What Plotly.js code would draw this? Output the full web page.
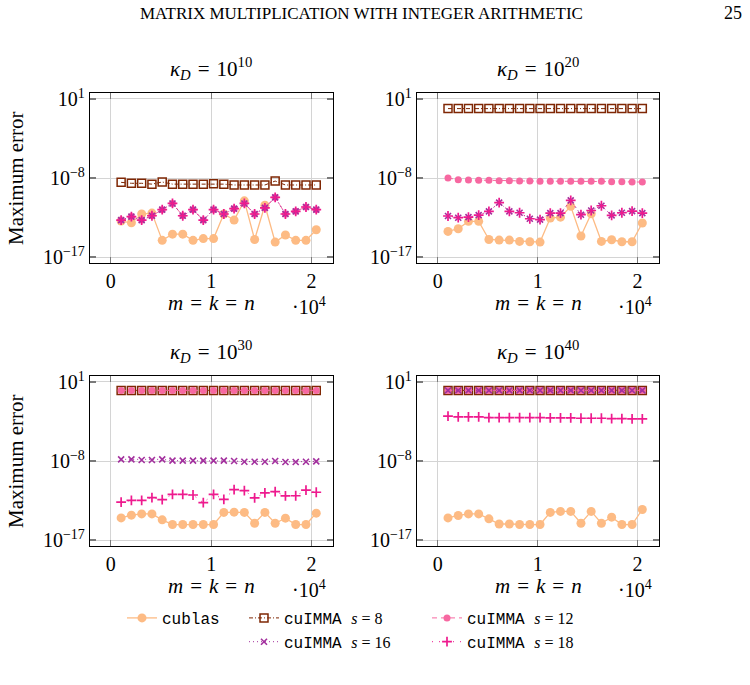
<!DOCTYPE html>
<html>
<head>
<meta charset="utf-8">
<script src="https://cdn.plot.ly/plotly-3.0.1.min.js"></script>
<style>
  html, body { margin: 0; padding: 0; background: #fff; }
  #chart { width: 750px; height: 685px; }
</style>
</head>
<body>
<div id="chart"></div>
<script>
// Problem sizes m = k = n
const sizes = [1024, 2048, 3072, 4096, 5120, 6144, 7168, 8192, 9216, 10240,
               11264, 12288, 13312, 14336, 15360, 16384, 17408, 18432, 19456, 20480];

// kappa_D = 1e10
const k10_cublas = [1.26e-13, 7.9e-14, 7.9e-13, 1.0e-12, 7.9e-16, 4.0e-15, 4.0e-15, 7.9e-16, 1.26e-15, 1.26e-15,
                    7.9e-13, 1.6e-13, 2.5e-11, 1.0e-15, 7.9e-12, 5.0e-16, 3.2e-15, 7.9e-16, 7.9e-16, 1.26e-14];
const k10_s8     = [3.2e-9, 2.5e-9, 2.5e-9, 2.0e-9, 3.5e-9, 2.0e-9, 2.0e-9, 2.0e-9, 2.0e-9, 2.2e-9,
                    2.0e-9, 1.6e-9, 1.6e-9, 1.6e-9, 1.6e-9, 4.5e-9, 1.6e-9, 1.6e-9, 1.6e-9, 1.6e-9];
const k10_s12    = [1.6e-13, 4.0e-13, 1.6e-13, 5.0e-13, 2.5e-12, 1.26e-11, 5.0e-13, 2.5e-12, 1.6e-13, 2.5e-12,
                    7.9e-13, 3.2e-12, 1.26e-11, 7.9e-13, 4.0e-12, 6.3e-11, 7.9e-13, 1.6e-12, 5.0e-12, 2.5e-12];
const k10_s16    = [1.6e-13, 4.0e-13, 1.6e-13, 5.0e-13, 2.5e-12, 1.26e-11, 5.0e-13, 2.5e-12, 1.6e-13, 2.5e-12,
                    7.9e-13, 3.2e-12, 1.26e-11, 7.9e-13, 4.0e-12, 6.3e-11, 7.9e-13, 1.6e-12, 5.0e-12, 2.5e-12];
const k10_s18    = [1.6e-13, 4.0e-13, 1.6e-13, 5.0e-13, 2.5e-12, 1.26e-11, 5.0e-13, 2.5e-12, 1.6e-13, 2.5e-12,
                    7.9e-13, 3.2e-12, 1.26e-11, 7.9e-13, 4.0e-12, 6.3e-11, 7.9e-13, 1.6e-12, 5.0e-12, 2.5e-12];

// kappa_D = 1e20
const k20_cublas = [8.3e-15, 1.66e-14, 1.15e-13, 1.15e-13, 1.0e-15, 8.5e-16, 8.5e-16, 6.0e-16, 5.5e-16, 5.0e-16,
                    2.75e-13, 3.5e-13, 5.9e-12, 2.5e-15, 8.5e-13, 6.0e-16, 9.3e-16, 5.5e-16, 5.5e-16, 7.4e-14];
const k20_s8     = [0.8, 0.8, 0.8, 0.8, 0.8, 0.8, 0.8, 0.8, 0.8, 0.8,
                    0.8, 0.8, 0.8, 0.8, 0.8, 0.8, 0.8, 0.8, 0.8, 0.8];
const k20_s12    = [1.0e-8, 6.5e-9, 5.9e-9, 5.4e-9, 5.4e-9, 5.0e-9, 5.0e-9, 4.6e-9, 4.6e-9, 4.2e-9,
                    4.2e-9, 4.2e-9, 4.2e-9, 4.2e-9, 4.2e-9, 4.2e-9, 3.8e-9, 3.8e-9, 3.5e-9, 3.5e-9];
const k20_s16    = [4.7e-13, 3.0e-13, 3.5e-13, 6.0e-13, 1.6e-12, 1.55e-11, 1.6e-12, 1.1e-12, 2.3e-13, 1.8e-13,
                    1.0e-12, 1.0e-12, 2.8e-11, 6.6e-13, 2.0e-12, 6.9e-12, 5.5e-13, 1.1e-12, 1.7e-12, 1.0e-12];
const k20_s18    = [4.7e-13, 3.0e-13, 3.5e-13, 6.0e-13, 1.6e-12, 1.55e-11, 1.6e-12, 1.1e-12, 2.3e-13, 1.8e-13,
                    1.0e-12, 1.0e-12, 2.8e-11, 6.6e-13, 2.0e-12, 6.9e-12, 5.5e-13, 1.1e-12, 1.7e-12, 1.0e-12];

// kappa_D = 1e30
const k30_cublas = [3.3e-15, 6.8e-15, 9.5e-15, 9.5e-15, 2.0e-15, 5.8e-16, 5.8e-16, 5.8e-16, 5.8e-16, 5.8e-16,
                    1.4e-14, 1.5e-14, 1.4e-14, 8.1e-16, 1.4e-14, 8.1e-16, 3.1e-15, 5.8e-16, 5.8e-16, 1.15e-14];
const k30_s8     = [1.1, 1.1, 1.1, 1.1, 1.1, 1.1, 1.1, 1.1, 1.1, 1.1,
                    1.1, 1.1, 1.1, 1.1, 1.1, 1.1, 1.1, 1.1, 1.1, 1.1];
const k30_s12    = [1.1, 1.1, 1.1, 1.1, 1.1, 1.1, 1.1, 1.1, 1.1, 1.1,
                    1.1, 1.1, 1.1, 1.1, 1.1, 1.1, 1.1, 1.1, 1.1, 1.1];
const k30_s16    = [1.55e-8, 1.55e-8, 1.3e-8, 1.3e-8, 1.55e-8, 1.1e-8, 1.1e-8, 1.1e-8, 1.1e-8, 1.1e-8,
                    1.1e-8, 1.0e-8, 8.3e-9, 8.3e-9, 8.3e-9, 1.0e-8, 7.8e-9, 7.8e-9, 8.3e-9, 9.1e-9];
const k30_s18    = [2.1e-13, 3.3e-13, 3.3e-13, 6.6e-13, 3.9e-13, 1.6e-12, 1.6e-12, 1.35e-12, 1.8e-13, 1.6e-12,
                    4.3e-13, 5.5e-12, 4.3e-12, 6.2e-13, 2.3e-12, 3.2e-12, 1.05e-12, 1.1e-12, 4.7e-12, 2.75e-12];

// kappa_D = 1e40
const k40_cublas = [3.3e-15, 6.3e-15, 9.5e-15, 9.5e-15, 2.6e-15, 6.7e-16, 6.7e-16, 5.8e-16, 5.8e-16, 5.8e-16,
                    1.4e-14, 1.8e-14, 1.8e-14, 8.1e-16, 1.8e-14, 8.1e-16, 4.0e-15, 5.8e-16, 5.8e-16, 3.0e-14];
const k40_s8     = [1.1, 1.1, 1.1, 1.1, 1.1, 1.1, 1.1, 1.1, 1.1, 1.1,
                    1.1, 1.1, 1.1, 1.1, 1.1, 1.1, 1.1, 1.1, 1.1, 1.1];
const k40_s12    = [1.1, 1.1, 1.1, 1.1, 1.1, 1.1, 1.1, 1.1, 1.1, 1.1,
                    1.1, 1.1, 1.1, 1.1, 1.1, 1.1, 1.1, 1.1, 1.1, 1.1];
const k40_s16    = [1.1, 1.1, 1.1, 1.1, 1.1, 1.1, 1.1, 1.1, 1.1, 1.1,
                    1.1, 1.1, 1.1, 1.1, 1.1, 1.1, 1.1, 1.1, 1.1, 1.1];
const k40_s18    = [1.26e-3, 1.05e-3, 1.05e-3, 1.05e-3, 8.7e-4, 8.7e-4, 8.7e-4, 8.7e-4, 8.7e-4, 8.7e-4,
                    8.0e-4, 8.0e-4, 8.0e-4, 7.4e-4, 7.4e-4, 7.4e-4, 6.8e-4, 6.8e-4, 6.2e-4, 6.2e-4];

const panelTitles = ['10<sup>10</sup>', '10<sup>20</sup>', '10<sup>30</sup>', '10<sup>40</sup>'];
const yTickVals = [1e1, 1e-8, 1e-17];
const yTickText = ['10<sup>1</sup>', '10<sup>−8</sup>', '10<sup>−17</sup>'];
const xTickVals = [0, 10000, 20000];
const xTickText = ['0', '1', '2'];

const SERIF = 'Liberation Serif';
const MONO = 'Liberation Mono';
const EQ = '\u2004=\u2004';   // math-style spacing around "="
const mathSpan = t => '<span style="font-family:Liberation Serif">' + t + '</span>';

const seriesStyle = {
  cublas: { name: 'cublas', legend: 'legend',
    line: { color: '#FDBB84', width: 1.3 },
    marker: { symbol: 'circle', size: 9, color: '#FDBB84' } },
  s8: { name: 'cuIMMA ' + mathSpan('<i>s</i> = 8'), legend: 'legend2',
    line: { color: '#7F2704', width: 1, dash: '4px,2px,1px,2px' },
    marker: { symbol: 'square-open', size: 8, color: '#7F2704', line: { width: 1.5, color: '#7F2704' } } },
  s12: { name: 'cuIMMA ' + mathSpan('<i>s</i> = 12'), legend: 'legend3',
    line: { color: '#F768A1', width: 1, dash: '5px,4px' },
    marker: { symbol: 'circle', size: 7, color: '#F768A1' } },
  s16: { name: 'cuIMMA ' + mathSpan('<i>s</i> = 16'), legend: 'legend2',
    line: { color: '#A3309E', width: 1, dash: '1px,3px' },
    marker: { symbol: 'x-thin', size: 6, color: '#A3309E', line: { width: 1.6, color: '#A3309E' } } },
  s18: { name: 'cuIMMA ' + mathSpan('<i>s</i> = 18'), legend: 'legend3',
    line: { color: '#EE1A8E', width: 1, dash: '1px,6px' },
    marker: { symbol: 'cross-thin', size: 7, color: '#EE1A8E', line: { width: 1.7, color: '#EE1A8E' } } }
};

const panels = [
  { cublas: k10_cublas, s8: k10_s8, s12: k10_s12, s16: k10_s16, s18: k10_s18 },
  { cublas: k20_cublas, s8: k20_s8, s12: k20_s12, s16: k20_s16, s18: k20_s18 },
  { cublas: k30_cublas, s8: k30_s8, s12: k30_s12, s16: k30_s16, s18: k30_s18 },
  { cublas: k40_cublas, s8: k40_s8, s12: k40_s12, s16: k40_s16, s18: k40_s18 }
];
const order = ['cublas', 's8', 's12', 's16', 's18'];

const W = 750, H = 685;
// pixel boxes of the four axes: [left, right, top, bottom]
const boxes = [[90, 333, 93, 263], [417, 659, 93, 263], [90, 333, 376, 546], [417, 659, 376, 546]];

const traces = [];
panels.forEach((p, i) => {
  const sfx = i === 0 ? '' : String(i + 1);
  order.forEach(key => {
    const st = seriesStyle[key];
    traces.push({
      type: 'scatter', mode: 'lines+markers',
      x: sizes, y: p[key],
      xaxis: 'x' + sfx, yaxis: 'y' + sfx,
      name: st.name, legend: st.legend,
      showlegend: i === 0,
      line: st.line, marker: st.marker,
      cliponaxis: false
    });
  });
});

const legendBase = (xpx) => ({
  x: xpx / W, y: 1 - 601 / H, xanchor: 'left', yanchor: 'top',
  font: { family: MONO, size: 16, color: '#000' }, bgcolor: 'rgba(0,0,0,0)', tracegroupgap: 0
});

const layout = {
  width: W, height: H,
  margin: { l: 0, r: 0, t: 0, b: 0 },
  paper_bgcolor: '#ffffff', plot_bgcolor: '#ffffff',
  font: { family: SERIF, size: 18, color: '#000' },
  annotations: [],
  legend: legendBase(122),
  legend2: legendBase(244),
  legend3: legendBase(427)
};

boxes.forEach((b, i) => {
  const sfx = i === 0 ? '' : String(i + 1);
  layout['xaxis' + sfx] = {
    domain: [b[0] / W, b[1] / W], anchor: 'y' + sfx,
    range: [-2080, 22150],
    tickvals: xTickVals, ticktext: xTickText,
    ticks: 'inside', ticklen: 6, tickcolor: '#7a7a7a', tickwidth: 1.2,
    showline: true, linecolor: '#000', linewidth: 1.2, mirror: 'ticks',
    showgrid: true, gridcolor: '#d4d4d4', gridwidth: 1,
    zeroline: false, tickfont: { family: SERIF, size: 20 }
  };
  layout['yaxis' + sfx] = {
    domain: [1 - b[3] / H, 1 - b[2] / H], anchor: 'x' + sfx,
    type: 'log', range: [-17.68, 1.68],
    tickvals: yTickVals, ticktext: yTickText,
    ticks: 'inside', ticklen: 6, tickcolor: '#7a7a7a', tickwidth: 1.2,
    showline: true, linecolor: '#000', linewidth: 1.2, mirror: 'ticks',
    showgrid: true, gridcolor: '#d4d4d4', gridwidth: 1,
    zeroline: false, tickfont: { family: SERIF, size: 20 }
  };
  const cx = (b[0] + b[1]) / 2;
  layout.annotations.push(
    { text: '<i>κ</i><sub><i>D</i></sub>' + EQ + panelTitles[i], xref: 'paper', yref: 'paper',
      x: cx / W, y: 1 - (b[2] - 25) / H, xanchor: 'center', yanchor: 'middle', showarrow: false,
      font: { family: SERIF, size: 21 } },
    { text: '<i>m</i>' + EQ + '<i>k</i>' + EQ + '<i>n</i>', xref: 'paper', yref: 'paper',
      x: cx / W, y: 1 - (b[3] + 40) / H, xanchor: 'center', yanchor: 'middle', showarrow: false,
      font: { family: SERIF, size: 21 } },
    { text: '·10<sup>4</sup>', xref: 'paper', yref: 'paper',
      x: (b[1] - 24) / W, y: 1 - (b[3] + 43) / H, xanchor: 'center', yanchor: 'middle', showarrow: false,
      font: { family: SERIF, size: 20 } }
  );
  if (i % 2 === 0) {
    layout.annotations.push({
      text: 'Maximum error', xref: 'paper', yref: 'paper', textangle: -90,
      x: 16 / W, y: 1 - ((b[2] + b[3]) / 2) / H, xanchor: 'center', yanchor: 'middle', showarrow: false,
      font: { family: SERIF, size: 21 } });
  }
});

// running page header
layout.annotations.push(
  { text: 'MATRIX MULTIPLICATION WITH INTEGER ARITHMETIC', xref: 'paper', yref: 'paper',
    x: 361 / W, y: 1 - 13 / H, xanchor: 'center', yanchor: 'middle', showarrow: false,
    font: { family: SERIF, size: 17 } },
  { text: '25', xref: 'paper', yref: 'paper',
    x: 733 / W, y: 1 - 13 / H, xanchor: 'center', yanchor: 'middle', showarrow: false,
    font: { family: SERIF, size: 18 } }
);

Plotly.newPlot('chart', traces, layout, { staticPlot: true, displayModeBar: false });
</script>
</body>
</html>
